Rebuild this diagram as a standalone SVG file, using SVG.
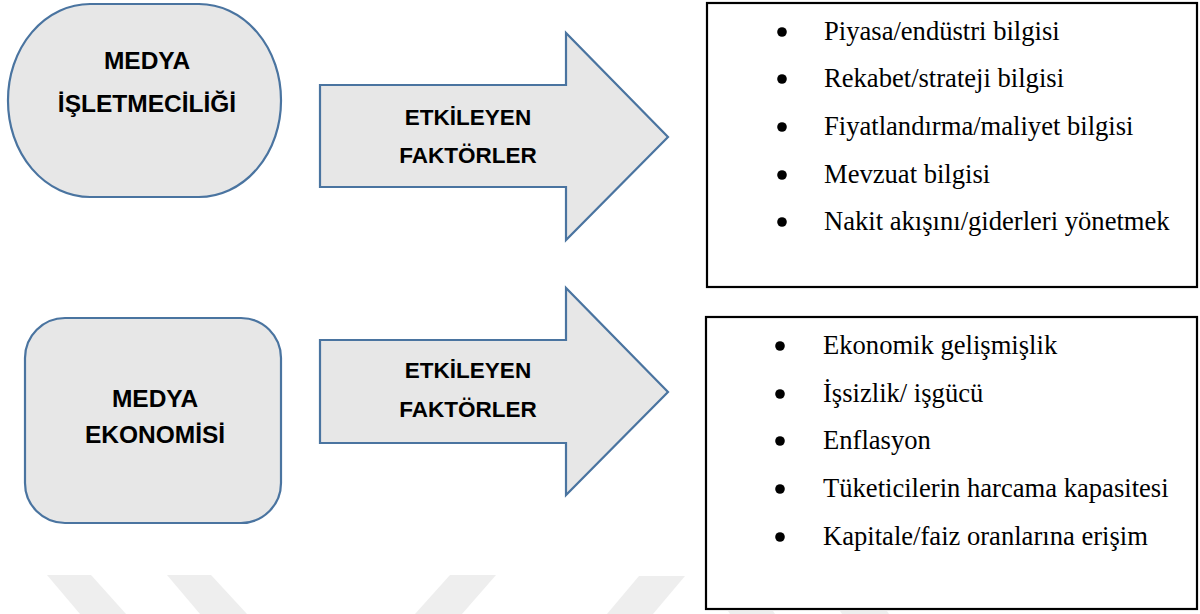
<svg xmlns="http://www.w3.org/2000/svg" width="1200" height="614" viewBox="0 0 1200 614">
<style>
.shape{fill:#e7e7e7;stroke:#4a74a0;stroke-width:2.2}
.box{fill:#fff;stroke:#000;stroke-width:2.2}
.hd{font-family:"Liberation Sans",Arial,sans-serif;font-weight:bold;font-size:24.5px;fill:#000;text-anchor:middle}
.ar{font-size:22.5px}
.it{font-family:"Liberation Serif","Times New Roman",serif;font-size:26.6px;fill:#000}
.wm{fill:#eeeeee}
</style>
<g id="watermark">
<polygon class="wm" points="47,575 91,575 126,614 80,614"/>
<polygon class="wm" points="167,575 211,575 247,614 200,614"/>
<polygon class="wm" points="450,575 496,575 462,614 415,614"/>
<polygon class="wm" points="639,576 685,576 653,614 607,614"/>
<polygon class="wm" points="728,611 773,611 775,614 730,614"/>
<polygon class="wm" points="840,611 887,611 889,614 842,614"/>
</g>
<g id="node-isletmecilik">
<rect class="shape" x="8" y="4" width="273" height="193" rx="82" ry="96"/>
<text class="hd" x="147" y="69">MEDYA</text>
<text class="hd" x="147" y="112">İŞLETMECİLİĞİ</text>
</g>
<g id="node-ekonomi">
<rect class="shape" x="25" y="318" width="256" height="205" rx="40" ry="40"/>
<text class="hd" x="155" y="407">MEDYA</text>
<text class="hd" x="155" y="443">EKONOMİSİ</text>
</g>
<g id="connectors">
<g id="arrow-top">
<polygon class="shape" points="320,85 566,85 566,33 668,137 566,240 566,187 320,187"/>
<text class="hd ar" x="468" y="125">ETKİLEYEN</text>
<text class="hd ar" x="468" y="163">FAKTÖRLER</text>
</g>
<g id="arrow-bottom">
<polygon class="shape" points="320,340 566,340 566,288 668,392 566,495 566,443 320,443"/>
<text class="hd ar" x="468" y="378">ETKİLEYEN</text>
<text class="hd ar" x="468" y="417">FAKTÖRLER</text>
</g>
</g>
<g id="box-top">
<rect class="box" x="707" y="3" width="490" height="284"/>
<circle cx="782" cy="32" r="4.8"/>
<circle cx="782" cy="79" r="4.8"/>
<circle cx="782" cy="127" r="4.8"/>
<circle cx="782" cy="175" r="4.8"/>
<circle cx="782" cy="222" r="4.8"/>
<text class="it" x="824" y="40">Piyasa/endüstri bilgisi</text>
<text class="it" x="824" y="87">Rekabet/strateji bilgisi</text>
<text class="it" x="824" y="135">Fiyatlandırma/maliyet bilgisi</text>
<text class="it" x="824" y="183">Mevzuat bilgisi</text>
<text class="it" x="824" y="230">Nakit akışını/giderleri yönetmek</text>
</g>
<g id="box-bottom">
<rect class="box" x="706" y="317" width="491" height="292"/>
<circle cx="780" cy="346" r="4.8"/>
<circle cx="780" cy="394" r="4.8"/>
<circle cx="780" cy="441" r="4.8"/>
<circle cx="780" cy="489" r="4.8"/>
<circle cx="780" cy="537" r="4.8"/>
<text class="it" x="823" y="354">Ekonomik gelişmişlik</text>
<text class="it" x="823" y="402">İşsizlik/ işgücü</text>
<text class="it" x="823" y="449">Enflasyon</text>
<text class="it" x="823" y="497">Tüketicilerin harcama kapasitesi</text>
<text class="it" x="823" y="545">Kapitale/faiz oranlarına erişim</text>
</g>
</svg>
